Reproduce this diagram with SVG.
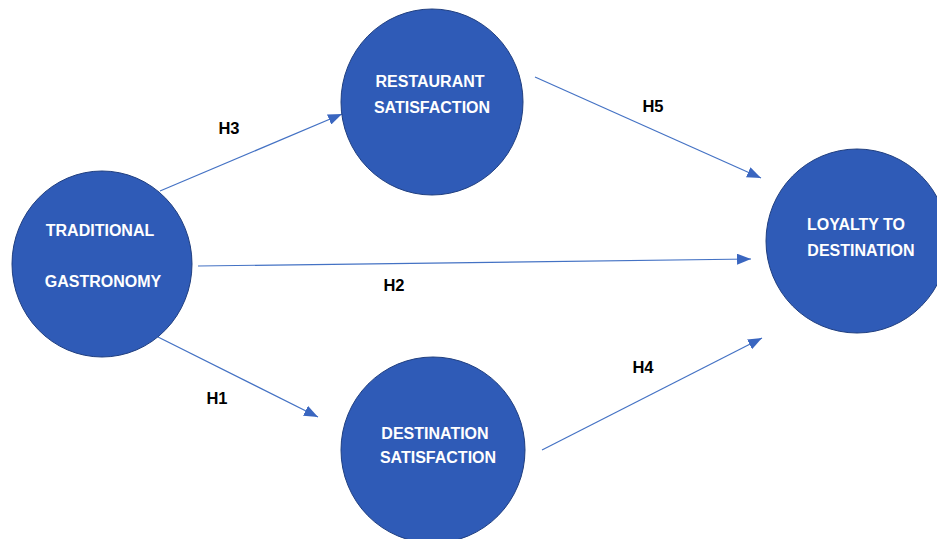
<svg xmlns="http://www.w3.org/2000/svg" width="937" height="539" viewBox="0 0 937 539">
<style>
.node{fill:#2F5BB7;stroke:#203F80;stroke-width:1}
.nt{font-family:"Liberation Sans",Arial,sans-serif;font-weight:bold;font-size:16px;fill:#FFFFFF;text-anchor:middle}
.lbl{font-family:"Liberation Sans",Arial,sans-serif;font-weight:bold;font-size:16.5px;fill:#000000;text-anchor:middle}
.edge{stroke:#4472C4;stroke-width:1.2;fill:none;marker-end:url(#ah)}
</style>
<defs>
<marker id="ah" markerUnits="userSpaceOnUse" markerWidth="14" markerHeight="11" refX="14" refY="5.5" orient="auto">
<path d="M0,0 L14,5.5 L0,11 z" fill="#3A66C0"/>
</marker>
</defs>
<rect width="937" height="539" fill="#FFFFFF"/>
<g id="connectors">
<line class="edge" x1="160" y1="191" x2="342" y2="114"/>
<line class="edge" x1="535" y1="77" x2="761" y2="178"/>
<line class="edge" x1="198" y1="266" x2="751" y2="259"/>
<line class="edge" x1="158" y1="337" x2="318" y2="417"/>
<line class="edge" x1="542" y1="450" x2="762" y2="338"/>
<text class="lbl" x="229" y="134">H3</text>
<text class="lbl" x="653" y="112">H5</text>
<text class="lbl" x="394" y="291">H2</text>
<text class="lbl" x="217" y="404">H1</text>
<text class="lbl" x="643" y="373">H4</text>
</g>
<g id="traditional">
<ellipse class="node" cx="102" cy="264" rx="90" ry="93"/>
<text class="nt" x="100" y="236">TRADITIONAL</text>
<text class="nt" x="103" y="287">GASTRONOMY</text>
</g>
<g id="restaurant">
<ellipse class="node" cx="432" cy="102" rx="91" ry="93"/>
<text class="nt" x="430" y="87">RESTAURANT</text>
<text class="nt" x="432" y="113">SATISFACTION</text>
</g>
<g id="destination">
<ellipse class="node" cx="433" cy="450" rx="92" ry="93"/>
<text class="nt" x="435" y="439">DESTINATION</text>
<text class="nt" x="438" y="463">SATISFACTION</text>
</g>
<g id="loyalty">
<ellipse class="node" cx="857" cy="241" rx="91" ry="92"/>
<text class="nt" x="856" y="230">LOYALTY TO</text>
<text class="nt" x="861" y="256">DESTINATION</text>
</g>
</svg>
